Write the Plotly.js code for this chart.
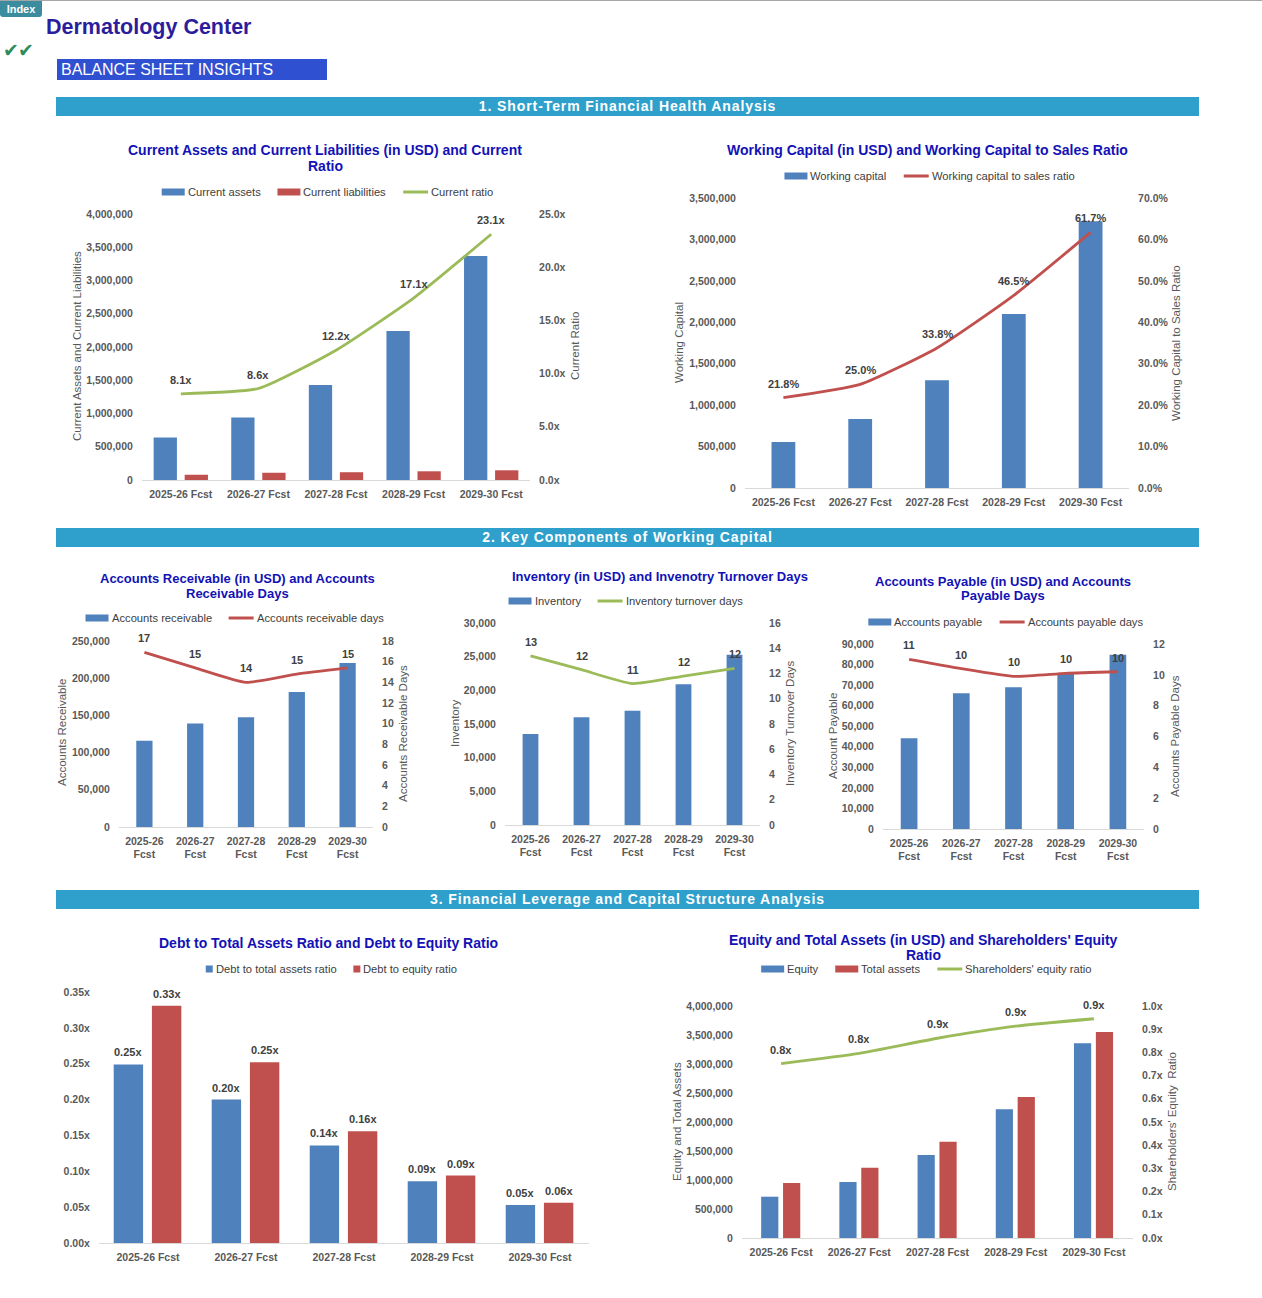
<!DOCTYPE html>
<html>
<head>
<meta charset="utf-8">
<script src="https://cdn.plot.ly/plotly-3.0.1.min.js"></script>
<style>
html,body{margin:0;padding:0;background:#fff;overflow:hidden;}
#wrap{position:relative;width:1262px;height:1298px;font-family:Arial,"Liberation Sans",sans-serif;}
#chart{position:absolute;left:0;top:0;width:1262px;height:1298px;}
.deco{position:absolute;pointer-events:none;white-space:nowrap;}
.sec{left:56px;width:1143px;height:19px;background:#2ea0cb;color:#fff;font-weight:bold;font-size:14px;line-height:19px;text-align:center;letter-spacing:0.9px;}
</style>
</head>
<body>
<div id="wrap">
  <div id="chart"></div>
  <div class="deco" style="left:0;top:0;width:1262px;height:1px;background:#a6a6a6"></div>
  <div class="deco" style="left:0;top:1px;width:42px;height:16px;background:#3b8c9e;color:#fff;font-weight:bold;font-size:11px;line-height:16px;text-align:center;border-radius:0 0 3px 3px;">Index</div>
  <div class="deco" style="left:46px;top:14px;font-size:21.5px;font-weight:bold;color:#2b1d9c;line-height:26px;">Dermatology Center</div>
  <div class="deco" style="left:3px;top:38px;font-size:19px;color:#2e8c5c;line-height:24px;letter-spacing:-1px;font-family:'DejaVu Sans',sans-serif;">✔✔</div>
  <div class="deco" style="left:57px;top:59px;width:270px;height:21px;background:#3050d2;color:#fff;font-size:16px;line-height:22px;padding-left:4px;box-sizing:border-box;">BALANCE SHEET INSIGHTS</div>
  <div class="deco sec" style="top:97px;">1. Short-Term Financial Health Analysis</div>
  <div class="deco sec" style="top:528px;">2. Key Components of Working Capital</div>
  <div class="deco sec" style="top:890px;">3. Financial Leverage and Capital Structure Analysis</div>
</div>
<script>
// ---------------- DATA ----------------
const categories = ['2025-26 Fcst','2026-27 Fcst','2027-28 Fcst','2028-29 Fcst','2029-30 Fcst'];
const currentAssets = [640000, 940000, 1430000, 2240000, 3370000];
const currentLiabilities = [79000, 109000, 117000, 131000, 146000];
const currentRatio = [8.1, 8.6, 12.2, 17.1, 23.1];
const workingCapital = [555000, 833000, 1300000, 2100000, 3220000];
const wcToSalesRatio = [0.218, 0.250, 0.338, 0.465, 0.617];
const accountsReceivable = [116000, 139000, 147500, 181500, 220500];
const receivableDays = [16.9, 15.4, 14.0, 14.8, 15.4];
const inventory = [13500, 16000, 16950, 20900, 25300];
const inventoryDays = [13.4, 12.3, 11.2, 11.8, 12.4];
const accountsPayable = [44200, 66000, 68900, 75900, 84800];
const payableDays = [11.0, 10.4, 9.9, 10.1, 10.2];
const debtToAssets = [0.249, 0.200, 0.136, 0.086, 0.053];
const debtToEquity = [0.331, 0.252, 0.156, 0.094, 0.056];
const equity = [712000, 964000, 1429000, 2221000, 3357000];
const totalAssets = [947000, 1211000, 1659000, 2433000, 3552000];
const equityRatio = [0.752, 0.796, 0.861, 0.913, 0.945];
const twoLineCategories = categories.map(c => c.replace(' ', '<br>'));

// ---------------- STYLE ----------------
const W = 1262, H = 1298;
const FONT = '"Liberation Sans", Arial, sans-serif';
const BLUE = '#4f81bd', RED = '#c0504d', GREEN = '#9bbb59';
const px = v => v / W;
const py = v => 1 - v / H;
const tickFont = {family: FONT, size: 10.5, color: '#595959', weight: 'bold'};
const labelFont = {family: FONT, size: 11, color: '#404040', weight: 'bold'};
const LEG_SIZE = 11.2;
const legendFont = {family: FONT, size: LEG_SIZE, color: '#404040'};
const titleFont = {family: FONT, size: 14, color: '#1212b6', weight: 'bold'};
const titleFontSmall = {family: FONT, size: 13, color: '#1212b6', weight: 'bold'};
const axTitleFont = {family: FONT, size: 11.5, color: '#595959'};

const fmtX1 = v => v.toFixed(1) + 'x';
const fmtX2 = v => v.toFixed(2) + 'x';
const fmtPct = v => (v * 100).toFixed(1) + '%';
const fmtInt = v => v.toFixed(0);

function xAxis(x0, x1, anchor, ticktext) {
  const a = {type: 'category', domain: [px(x0), px(x1)], anchor: anchor,
    showline: true, linecolor: '#d9d9d9', linewidth: 1, showgrid: false, zeroline: false,
    ticks: 'outside', ticklen: 4, tickcolor: 'rgba(0,0,0,0)', tickfont: tickFont, fixedrange: true,
    range: [-0.5, 4.5]};
  if (ticktext) { a.tickmode = 'array'; a.tickvals = categories; a.ticktext = ticktext; }
  return a;
}
function yAxis(y0, y1, anchor, range, dtick, fmt, suffix, right, overlay) {
  const a = {domain: [py(y1), py(y0)], anchor: anchor, range: range, dtick: dtick, tick0: 0,
    tickformat: fmt, ticksuffix: suffix || '', showgrid: false, zeroline: false, showline: false,
    ticks: 'outside', ticklen: 6, tickcolor: 'rgba(0,0,0,0)', tickfont: tickFont, fixedrange: true};
  if (right) { a.side = 'right'; a.overlaying = overlay; }
  return a;
}

const traces = [];
const annotations = [];
const shapes = [];

function addLabels(y, xa, ya, fmt, shift) {
  y.forEach((v, i) => annotations.push({x: categories[i], y: v, xref: xa, yref: ya, text: fmt(v),
    showarrow: false, yshift: shift, xanchor: 'center', yanchor: 'middle', font: labelFont, borderpad: 0}));
}
function addBar(y, xa, ya, color, name, group, width, offset, fmt) {
  const t = {type: 'bar', x: categories, y: y, xaxis: xa, yaxis: ya, name: name, legendgroup: group,
    marker: {color: color}, width: width, hoverinfo: 'skip', showlegend: false, _kind: 'bar'};
  if (offset !== undefined) t.offset = offset;
  traces.push(t);
  if (fmt) {
    const shiftX = offset !== undefined ? offset + width / 2 : 0;
    y.forEach((v, i) => annotations.push({x: i + shiftX, y: v, xref: xa, yref: ya, text: fmt(v),
      showarrow: false, yshift: 12, xanchor: 'center', yanchor: 'middle', font: labelFont, borderpad: 0}));
  }
}
function addLine(y, xa, ya, color, name, group, fmt) {
  traces.push({type: 'scatter', mode: 'lines', x: categories, y: y, xaxis: xa, yaxis: ya, name: name,
    legendgroup: group, showlegend: false, _kind: 'line',
    line: {color: color, width: 2.8, shape: 'spline', smoothing: 0.5}, hoverinfo: 'skip'});
  addLabels(y, xa, ya, fmt, 14);
}

// Chart 1
addBar(currentAssets, 'x', 'y', BLUE, 'Current assets', 'c1', 0.30, -0.35);
addBar(currentLiabilities, 'x', 'y', RED, 'Current liabilities', 'c1', 0.30, 0.05);
addLine(currentRatio, 'x', 'y2', GREEN, 'Current ratio', 'c1', fmtX1);
// Chart 2
addBar(workingCapital, 'x2', 'y3', BLUE, 'Working capital', 'c2', 0.31);
addLine(wcToSalesRatio, 'x2', 'y4', RED, 'Working capital to sales ratio', 'c2', fmtPct);
// Chart 3
addBar(accountsReceivable, 'x3', 'y5', BLUE, 'Accounts receivable', 'c3', 0.32);
addLine(receivableDays, 'x3', 'y6', RED, 'Accounts receivable days', 'c3', fmtInt);
// Chart 4
addBar(inventory, 'x4', 'y7', BLUE, 'Inventory', 'c4', 0.31);
addLine(inventoryDays, 'x4', 'y8', GREEN, 'Inventory turnover days', 'c4', fmtInt);
// Chart 5
addBar(accountsPayable, 'x5', 'y9', BLUE, 'Accounts payable', 'c5', 0.32);
addLine(payableDays, 'x5', 'y10', RED, 'Accounts payable days', 'c5', fmtInt);
// Chart 6
addBar(debtToAssets, 'x6', 'y11', BLUE, 'Debt to total assets ratio', 'c6', 0.30, -0.35, fmtX2);
addBar(debtToEquity, 'x6', 'y11', RED, 'Debt to equity ratio', 'c6', 0.30, 0.04, fmtX2);
// Chart 7
addBar(equity, 'x7', 'y12', BLUE, 'Equity', 'c7', 0.22, -0.255);
addBar(totalAssets, 'x7', 'y12', RED, 'Total assets', 'c7', 0.22, 0.025);
addLine(equityRatio, 'x7', 'y13', GREEN, "Shareholders' equity ratio", 'c7', fmtX1);

// ---------------- LEGENDS (Excel-like: symbol then text) ----------------
const ctx = document.createElement('canvas').getContext('2d');
function textW(s) { ctx.font = LEG_SIZE + 'px "Liberation Sans", Arial, sans-serif'; return ctx.measureText(s).width; }
const legendPlaces = {c1: [327, 192], c2: [929, 176], c3: [234, 618], c4: [625, 601],
                      c5: [1005, 622], c6: [331, 969], c7: [926, 969]};
const squareGroups = {c6: true};
Object.keys(legendPlaces).forEach(g => {
  const [xc, yc] = legendPlaces[g];
  const items = traces.filter(t => t.legendgroup === g).map(t => ({
    name: t.name, color: t._kind === 'bar' ? t.marker.color : t.line.color,
    kind: t._kind === 'bar' ? (squareGroups[g] ? 'square' : 'bar') : 'line'}));
  const symW = k => k === 'bar' ? 23 : (k === 'line' ? 25 : 7);
  const gapSym = 2, gapItem = 18;
  const widths = items.map(it => symW(it.kind) + gapSym + textW(it.name));
  const total = widths.reduce((a, b) => a + b, 0) + gapItem * (items.length - 1);
  let x = xc - total / 2;
  items.forEach((it, i) => {
    const sw = symW(it.kind);
    if (it.kind === 'line') {
      shapes.push({type: 'line', xref: 'paper', yref: 'paper', x0: px(x), x1: px(x + sw),
        y0: py(yc), y1: py(yc), line: {color: it.color, width: 3}});
    } else {
      const h = 7;
      shapes.push({type: 'rect', xref: 'paper', yref: 'paper', x0: px(x), x1: px(x + sw),
        y0: py(yc + h / 2), y1: py(yc - h / 2), fillcolor: it.color, line: {width: 0}});
    }
    annotations.push({text: it.name, x: px(x + sw + gapSym), y: py(yc), xref: 'paper', yref: 'paper',
      xanchor: 'left', yanchor: 'middle', showarrow: false, font: legendFont, borderpad: 0});
    x += widths[i] + gapItem;
  });
});

function ann(text, xc, yc, font, angle) {
  return {text: text, x: px(xc), y: py(yc), xref: 'paper', yref: 'paper', showarrow: false,
    xanchor: 'center', yanchor: 'middle', font: font, textangle: angle || 0, align: 'center', borderpad: 0};
}
function title(lines, xc, yFirst, step, font) {
  lines.forEach((l, i) => annotations.push(ann(l, xc, yFirst + i * step, font)));
}
title(['Current Assets and Current Liabilities (in USD) and Current', 'Ratio'], 325, 150, 16, titleFont);
title(['Working Capital (in USD) and Working Capital to Sales Ratio'], 927, 150, 16, titleFont);
title(['Accounts Receivable (in USD) and Accounts', 'Receivable Days'], 237, 578, 15, titleFontSmall);
title(['Inventory (in USD) and Invenotry Turnover Days'], 660, 576, 15, titleFontSmall);
title(['Accounts Payable (in USD) and Accounts', 'Payable Days'], 1003, 581, 15, titleFontSmall);
title(['Debt to Total Assets Ratio and Debt to Equity Ratio'], 329, 943, 16, titleFont);
title(["Equity and Total Assets (in USD) and Shareholders' Equity", 'Ratio'], 924, 940, 15, titleFont);
[
  ann('Current Assets and Current Liabilities', 77, 346, axTitleFont, -90),
  ann('Current Ratio', 575, 346, axTitleFont, -90),
  ann('Working Capital', 679, 343, axTitleFont, -90),
  ann('Working Capital to Sales Ratio', 1176, 343, axTitleFont, -90),
  ann('Accounts Receivable', 62, 733, axTitleFont, -90),
  ann('Accounts Receivable Days', 403, 733, axTitleFont, -90),
  ann('Inventory', 455, 723, axTitleFont, -90),
  ann('Inventory Turnover Days', 790, 723, axTitleFont, -90),
  ann('Account Payable', 833, 736, axTitleFont, -90),
  ann('Accounts Payable Days', 1175, 736, axTitleFont, -90),
  ann('Equity and Total Assets', 677, 1122, axTitleFont, -90),
  ann("Shareholders' Equity  Ratio", 1172, 1122, axTitleFont, -90)
].forEach(a => annotations.push(a));

traces.forEach(t => delete t._kind);

const layout = {
  width: W, height: H, margin: {l: 0, r: 0, t: 0, b: 0},
  paper_bgcolor: 'rgba(0,0,0,0)', plot_bgcolor: 'rgba(0,0,0,0)',
  font: {family: FONT}, barmode: 'group', hovermode: false, dragmode: false, showlegend: false,
  xaxis: xAxis(142, 530, 'y'),
  yaxis: yAxis(214, 480, 'x', [0, 4000000], 500000, ',d'),
  yaxis2: yAxis(214, 480, 'x', [0, 25], 5, '.1f', 'x', true, 'y'),
  xaxis2: xAxis(745, 1129, 'y3'),
  yaxis3: yAxis(198, 488, 'x2', [0, 3500000], 500000, ',d'),
  yaxis4: yAxis(198, 488, 'x2', [0, 0.7], 0.1, '.1%', '', true, 'y3'),
  xaxis3: xAxis(119, 373, 'y5', twoLineCategories),
  yaxis5: yAxis(641, 827, 'x3', [0, 250000], 50000, ',d'),
  yaxis6: yAxis(641, 827, 'x3', [0, 18], 2, 'd', '', true, 'y5'),
  xaxis4: xAxis(505, 760, 'y7', twoLineCategories),
  yaxis7: yAxis(623, 825, 'x4', [0, 30000], 5000, ',d'),
  yaxis8: yAxis(623, 825, 'x4', [0, 16], 2, 'd', '', true, 'y7'),
  xaxis5: xAxis(883, 1144, 'y9', twoLineCategories),
  yaxis9: yAxis(644, 829, 'x5', [0, 90000], 10000, ',d'),
  yaxis10: yAxis(644, 829, 'x5', [0, 12], 2, 'd', '', true, 'y9'),
  xaxis6: xAxis(99, 589, 'y11'),
  yaxis11: yAxis(992, 1243, 'x6', [0, 0.35], 0.05, '.2f', 'x'),
  xaxis7: xAxis(742, 1133, 'y12'),
  yaxis12: yAxis(1006, 1238, 'x7', [0, 4000000], 500000, ',d'),
  yaxis13: yAxis(1006, 1238, 'x7', [0, 1.0], 0.1, '.1f', 'x', true, 'y12'),
  annotations: annotations,
  shapes: shapes
};

Plotly.newPlot('chart', traces, layout, {staticPlot: true, displayModeBar: false});
</script>
</body>
</html>
